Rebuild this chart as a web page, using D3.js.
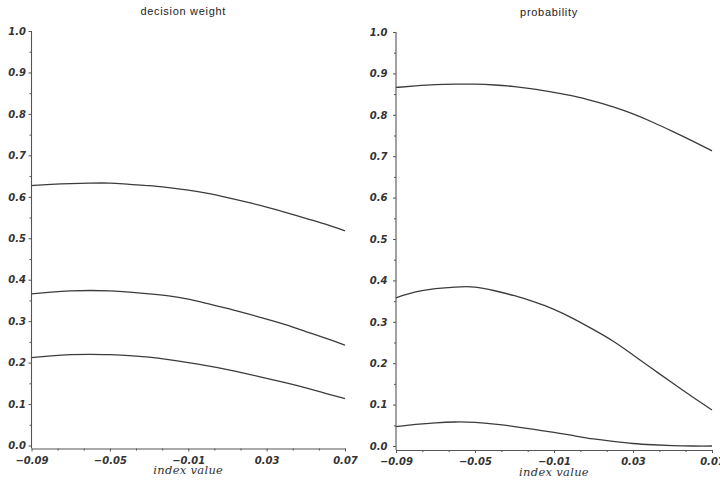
<!DOCTYPE html>
<html>
<head>
<meta charset="utf-8">
<script src="https://cdn.jsdelivr.net/npm/d3@7"></script>
<style>
  html, body { margin: 0; padding: 0; background: #fff; }
  svg { display: block; }
  .tick text.ylab, .xax .tick text {
    font-family: "DejaVu Sans", sans-serif;
    font-weight: bold;
    font-style: oblique;
    font-size: 10px;
    fill: #333;
  }
  .title {
    font-family: "Liberation Sans", Arial, sans-serif;
    font-size: 11px;
    fill: #222;
  }
  .xtitle {
    font-family: "DejaVu Serif", serif;
    font-style: italic;
    font-size: 11.5px;
    fill: #333;
  }
</style>
</head>
<body>
<svg id="chart" width="720" height="489"></svg>
<script>
// index values on the horizontal axis (step 0.01)
const indexValues = [-0.09, -0.08, -0.07, -0.06, -0.05, -0.04, -0.03, -0.02, -0.01,
                     0.00, 0.01, 0.02, 0.03, 0.04, 0.05, 0.06, 0.07];

// decision weight curves
const weightHigh = [0.627, 0.630, 0.632, 0.633, 0.633, 0.630, 0.627, 0.622, 0.616,
                    0.608, 0.598, 0.587, 0.575, 0.562, 0.548, 0.534, 0.518];
const weightMid  = [0.366, 0.370, 0.373, 0.374, 0.373, 0.370, 0.366, 0.361, 0.353,
                    0.342, 0.331, 0.318, 0.305, 0.291, 0.275, 0.259, 0.242];
const weightLow  = [0.212, 0.216, 0.219, 0.220, 0.219, 0.217, 0.213, 0.207, 0.200,
                    0.192, 0.183, 0.173, 0.162, 0.151, 0.139, 0.126, 0.113];

// probability curves
const probHigh = [0.866, 0.870, 0.873, 0.874, 0.874, 0.872, 0.868, 0.862, 0.854,
                  0.845, 0.833, 0.819, 0.802, 0.782, 0.760, 0.737, 0.713];
const probMid  = [0.358, 0.372, 0.380, 0.384, 0.384, 0.375, 0.363, 0.348, 0.330,
                  0.307, 0.281, 0.253, 0.220, 0.186, 0.152, 0.119, 0.087];
const probLow  = [0.047, 0.052, 0.056, 0.058, 0.057, 0.053, 0.047, 0.040, 0.033,
                  0.025, 0.017, 0.011, 0.006, 0.003, 0.001, 0.000, 0.000];

// axis ticks
const xTicks = [-0.09, -0.05, -0.01, 0.03, 0.07];
const yTicks = [0.0, 0.1, 0.2, 0.3, 0.4, 0.5, 0.6, 0.7, 0.8, 0.9, 1.0];

const panelTitles = ["decision weight", "probability"];
const xTitle = "index value";

const panels = [
  { title: panelTitles[0], series: [weightHigh, weightMid, weightLow],
    xr: [31.5, 345], yr: [445.5, 31], base: 448.5, yPad: 2.5, xPad: 5.5, titleY: 14.5 },
  { title: panelTitles[1], series: [probHigh, probMid, probLow],
    xr: [396, 712], yr: [446, 32], base: 450, yPad: 5.5, xPad: 5, titleY: 16 }
];

const svg = d3.select("#chart");
const axisColor = "#555";

// minor ticks: two between x majors, one between y majors
const xMinor = [];
for (let i = 0; i < xTicks.length - 1; i++) {
  const step = (xTicks[i + 1] - xTicks[i]) / 3;
  xMinor.push(xTicks[i] + step, xTicks[i] + 2 * step);
}
const yMinor = yTicks.slice(0, -1).map(v => v + 0.05);

panels.forEach(p => {
  const x = d3.scaleLinear().domain([-0.09, 0.07]).range(p.xr);
  const y = d3.scaleLinear().domain([0, 1]).range(p.yr);
  const g = svg.append("g");

  // y axis
  const yAxis = g.append("g").attr("transform", `translate(${p.xr[0]},0)`)
    .call(d3.axisLeft(y).tickValues(yTicks).tickFormat(d3.format(".1f"))
      .tickSize(3).tickPadding(p.yPad).tickSizeOuter(0));
  yAxis.select(".domain").remove();
  yAxis.selectAll("line").attr("stroke", axisColor);
  yAxis.selectAll("text").attr("class", "ylab");
  const yMin = g.append("g").attr("transform", `translate(${p.xr[0]},0)`)
    .call(d3.axisLeft(y).tickValues(yMinor).tickFormat("").tickSize(2).tickSizeOuter(0));
  yMin.select(".domain").remove();
  yMin.selectAll("line").attr("stroke", axisColor);
  g.append("line")
    .attr("x1", p.xr[0]).attr("x2", p.xr[0])
    .attr("y1", y(1)).attr("y2", p.base)
    .attr("stroke", axisColor).attr("stroke-width", 1.1);

  // x axis
  const xAxis = g.append("g").attr("class", "xax").attr("transform", `translate(0,${p.base})`)
    .call(d3.axisBottom(x).tickValues(xTicks).tickFormat(d3.format(".2f"))
      .tickSize(3).tickPadding(p.xPad).tickSizeOuter(0));
  xAxis.select(".domain").attr("stroke", axisColor).attr("stroke-width", 1.1);
  xAxis.selectAll("line").attr("stroke", axisColor);
  const xMin = g.append("g").attr("transform", `translate(0,${p.base})`)
    .call(d3.axisBottom(x).tickValues(xMinor).tickFormat("").tickSize(2).tickSizeOuter(0));
  xMin.select(".domain").remove();
  xMin.selectAll("line").attr("stroke", axisColor);

  // curves
  const line = d3.line()
    .x((d, i) => x(indexValues[i]))
    .y(d => y(d))
    .curve(d3.curveNatural);
  p.series.forEach(s => {
    g.append("path").datum(s)
      .attr("d", line)
      .attr("fill", "none")
      .attr("stroke", "#3c3c3c")
      .attr("stroke-width", 1.3);
  });

  // titles
  const cx = (p.xr[0] + p.xr[1]) / 2;
  g.append("text").attr("class", "title")
    .attr("x", cx - 5).attr("y", p.titleY)
    .attr("text-anchor", "middle")
    .attr("letter-spacing", "0.7px")
    .text(p.title);
  g.append("text").attr("class", "xtitle")
    .attr("x", cx).attr("y", p.base + 25.5)
    .attr("text-anchor", "middle")
    .attr("letter-spacing", "0.3px")
    .text(xTitle);
});
</script>
</body>
</html>
